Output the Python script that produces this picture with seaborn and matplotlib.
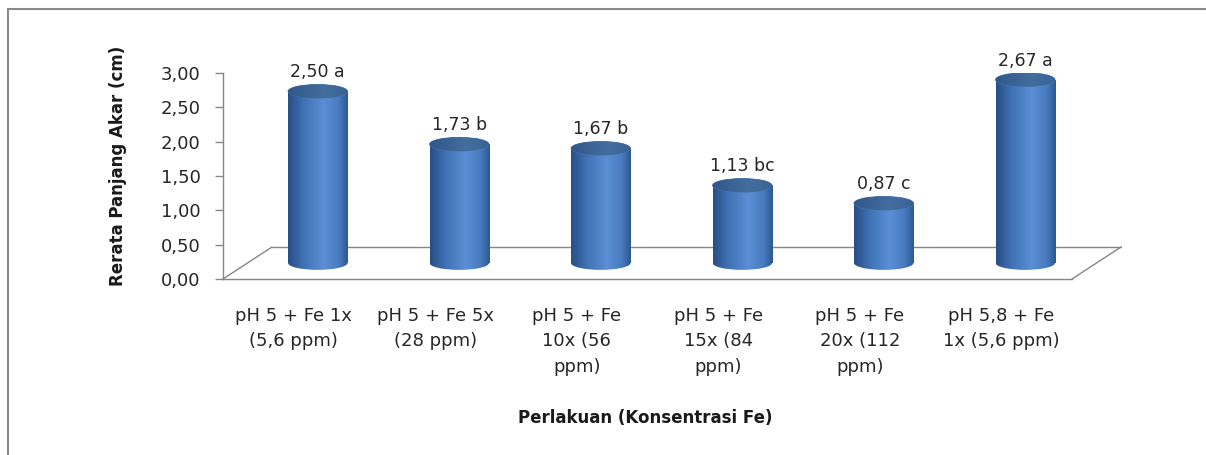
import matplotlib
matplotlib.use('Agg')
import matplotlib.pyplot as plt
import matplotlib.transforms as mtransforms
from matplotlib.patches import Ellipse, Rectangle
from matplotlib.colors import LinearSegmentedColormap
import seaborn as sns
import numpy as np
import pandas as pd

categories = [
    'pH 5 + Fe 1x\n(5,6 ppm)',
    'pH 5 + Fe 5x\n(28 ppm)',
    'pH 5 + Fe\n10x (56\nppm)',
    'pH 5 + Fe\n15x (84\nppm)',
    'pH 5 + Fe\n20x (112\nppm)',
    'pH 5,8 + Fe\n1x (5,6 ppm)',
]
values = [2.50, 1.73, 1.67, 1.13, 0.87, 2.67]
letters = ['a', 'b', 'b', 'bc', 'c', 'a']
y_ticks = [0.0, 0.5, 1.0, 1.5, 2.0, 2.5, 3.0]

df = pd.DataFrame({'perlakuan': categories, 'panjang': values})

sns.set_style('white')
plt.rcParams['font.family'] = ['DejaVu Sans']

W, H, DPI = 1206, 455, 100
fig = plt.figure(figsize=(W / DPI, H / DPI), dpi=DPI)
ax = fig.add_axes([223 / W, (H - 279) / H, 849 / W, 206 / H])

ax = sns.barplot(data=df, x='perlakuan', y='panjang', color='#4f81bd',
                 width=0.42, ax=ax)

grey = '#868686'

# depth shift of the 3D look, in pixels
def depth(dx, dy, base=None):
    base = ax.transData if base is None else base
    return base + mtransforms.ScaledTranslation(dx / DPI, dy / DPI, fig.dpi_scale_trans)

bar_shift = depth(24, 16)
cyl = LinearSegmentedColormap.from_list('cyl', [
    (0.0, '#284f86'), (0.25, '#3f71b4'), (0.6, '#5b8fd5'),
    (0.85, '#487bbf'), (1.0, '#2d5a94')])
top_cmap = LinearSegmentedColormap.from_list('top', [
    (0.0, '#31578a'), (0.6, '#436e9e'), (1.0, '#386293')])
grad = np.linspace(0, 1, 64).reshape(1, -1)
eh = 0.2

for p, v, let in zip(list(ax.patches), values, letters):
    x0 = p.get_x()
    w = p.get_width()
    h = p.get_height()
    p.set_transform(bar_shift)
    p.set_facecolor('none')
    p.set_edgecolor('none')
    im = ax.imshow(grad, extent=[x0, x0 + w, 0, h], aspect='auto', cmap=cyl,
                   transform=bar_shift, zorder=2)
    im.set_clip_path(p)
    bot = Ellipse((x0 + w / 2, 0), w, eh, transform=bar_shift,
                  facecolor='none', edgecolor='none')
    ax.add_patch(bot)
    im2 = ax.imshow(grad, extent=[x0, x0 + w, -eh, 0], aspect='auto', cmap=cyl,
                    transform=bar_shift, zorder=2)
    im2.set_clip_path(bot)
    top = Ellipse((x0 + w / 2, h), w, eh, transform=bar_shift,
                  facecolor='#3d689e', edgecolor='#4a78b0', lw=0.6, zorder=3)
    ax.add_patch(top)
    im3 = ax.imshow(grad, extent=[x0, x0 + w, h - eh / 2, h + eh / 2],
                    aspect='auto', cmap=top_cmap, transform=bar_shift, zorder=3)
    im3.set_clip_path(top)
    label = f'{v:.2f}'.replace('.', ',') + ' ' + let
    ax.text(x0 + w / 2, h, label, transform=depth(24, 26), ha='center',
            va='bottom', fontsize=12.5, color='#262626')

# floor of the 3D plot
ax.plot([0, 1], [0, 0], transform=depth(49, 32, ax.transAxes), color=grey,
        lw=1, clip_on=False, zorder=0.5)
trans_ax = ax.transAxes
for fx in [0, 1]:
    a = trans_ax.transform((fx, 0))
    b = depth(49, 32, trans_ax).transform((fx, 0))
    ax.add_line(plt.Line2D([a[0], b[0]], [a[1], b[1]], transform=None,
                           color=grey, lw=1, clip_on=False, zorder=0.5))

ax.set_xlim(-0.5, len(categories) - 0.5)
ax.set_ylim(0, 3)
ax.set_yticks(y_ticks)
ax.set_yticklabels([f'{t:.2f}'.replace('.', ',') for t in y_ticks])

for s in ['top', 'right']:
    ax.spines[s].set_visible(False)
for s in ['left', 'bottom']:
    ax.spines[s].set_color(grey)
    ax.spines[s].set_linewidth(1)

ax.tick_params(axis='y', left=True, length=6, width=1, color=grey, pad=10,
               labelsize=13, labelcolor='#262626')
ax.tick_params(axis='x', bottom=False, length=0, pad=20, labelsize=13,
               labelcolor='#262626')
for t in ax.get_xticklabels():
    t.set_linespacing(1.55)

ax.set_ylabel('Rerata Panjang Akar (cm)', fontsize=12, fontweight='bold',
              color='#1a1a1a')
ax.set_xlabel('Perlakuan (Konsentrasi Fe)', fontsize=12, fontweight='bold',
              color='#1a1a1a')
ax.yaxis.set_label_coords(-0.124, 0.55)
ax.xaxis.set_label_coords(0.497, -0.675)
ax.xaxis.label.set_va('center')
ax.yaxis.label.set_va('center')

fig.patches.append(Rectangle((8 / W, -0.1), 1.2, 1.1 - 9 / H,
                             transform=fig.transFigure, fill=False,
                             edgecolor='#8a8a8a', lw=1.5))

fig.savefig('out.png', dpi=DPI, facecolor='white')
